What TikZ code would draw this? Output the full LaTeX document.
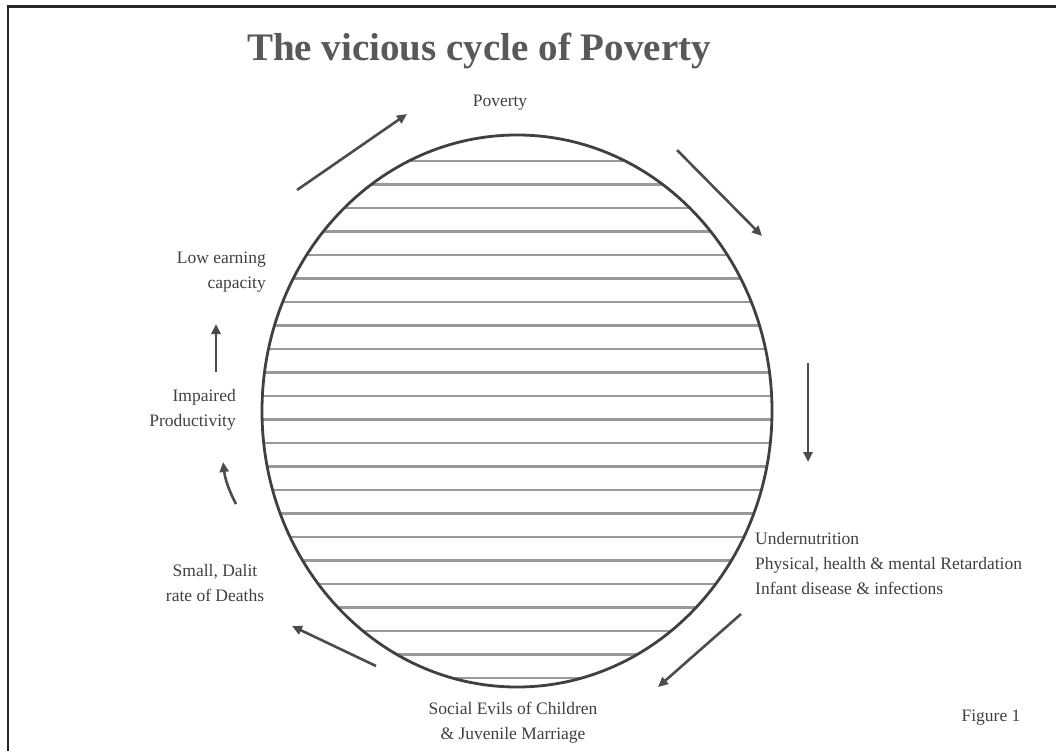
\documentclass[tikz,border=0pt]{standalone}
\usepackage{fontspec}
\setmainfont{Liberation Serif}
\usetikzlibrary{arrows.meta}
\tikzset{
  lbl/.style={inner sep=0pt, font=\fontsize{17.5}{25}\selectfont, text=black!75},
  cyc/.style={line width=2.6pt, draw=black!70, -{Triangle[length=10pt,width=9pt]}},
  hatch/.style={line width=2.4pt, draw=black!40},
}
\begin{document}
\begin{tikzpicture}[x=1pt,y=-1pt]
\useasboundingbox (0,0) rectangle (1056,751);
\fill[white] (0,0) rectangle (1056,751);
% frame (left and top)
\draw[line width=2.5pt, black!85] (8,751) -- (8,6.5) -- (1056,6.5);
% title
\node[inner sep=0pt, font=\fontsize{39}{44}\selectfont\bfseries, text=black!65] (title) at (479,51) {The vicious cycle of Poverty};
% hatched circle
\coordinate (c) at (517,411);
\begin{scope}
\clip (c) ellipse [x radius=255, y radius=276];
\foreach \y in {161,184.5,...,690} {
  \draw[hatch] (250,\y) -- (790,\y);
}
\end{scope}
\draw[draw=black!75, line width=2.8pt] (c) ellipse [x radius=255, y radius=276];
% labels
\node[lbl] (pov) at (500,103) {Poverty};
\node[lbl, anchor=east, align=right] (low) at (266,272) {Low earning\\capacity};
\node[lbl, anchor=east, align=right] (imp) at (236,410) {Impaired\\Productivity};
\node[lbl, align=center] (small) at (215,583) {Small, Dalit\\rate of Deaths};
\node[lbl, align=center] (soc) at (513,723) {Social Evils of Children\\\& Juvenile Marriage};
\node[lbl, anchor=west, align=left] (und) at (755,564) {Undernutrition\\Physical, health \& mental Retardation\\Infant disease \& infections};
\node[lbl] (fig) at (991,718) {Figure 1};
% arrows
\coordinate (a1s) at (297,190); \coordinate (a1e) at (407,114);
\coordinate (a2s) at (677,150); \coordinate (a2e) at (762,236);
\coordinate (a3s) at (808,363); \coordinate (a3e) at (808,462);
\coordinate (a4s) at (741,614); \coordinate (a4e) at (658,687);
\coordinate (a5s) at (376,666); \coordinate (a5e) at (292,626);
\coordinate (a6s) at (236,504); \coordinate (a6e) at (223,462);
\coordinate (a7s) at (216,372); \coordinate (a7e) at (216,324);
\draw[cyc] (a1s) -- (a1e);
\draw[cyc] (a2s) -- (a2e);
\draw[cyc] (a3s) -- (a3e);
\draw[cyc] (a4s) -- (a4e);
\draw[cyc] (a5s) -- (a5e);
\draw[cyc] (a6s) to[bend left=10] (a6e);
\draw[cyc] (a7s) -- (a7e);
\end{tikzpicture}
\end{document}
